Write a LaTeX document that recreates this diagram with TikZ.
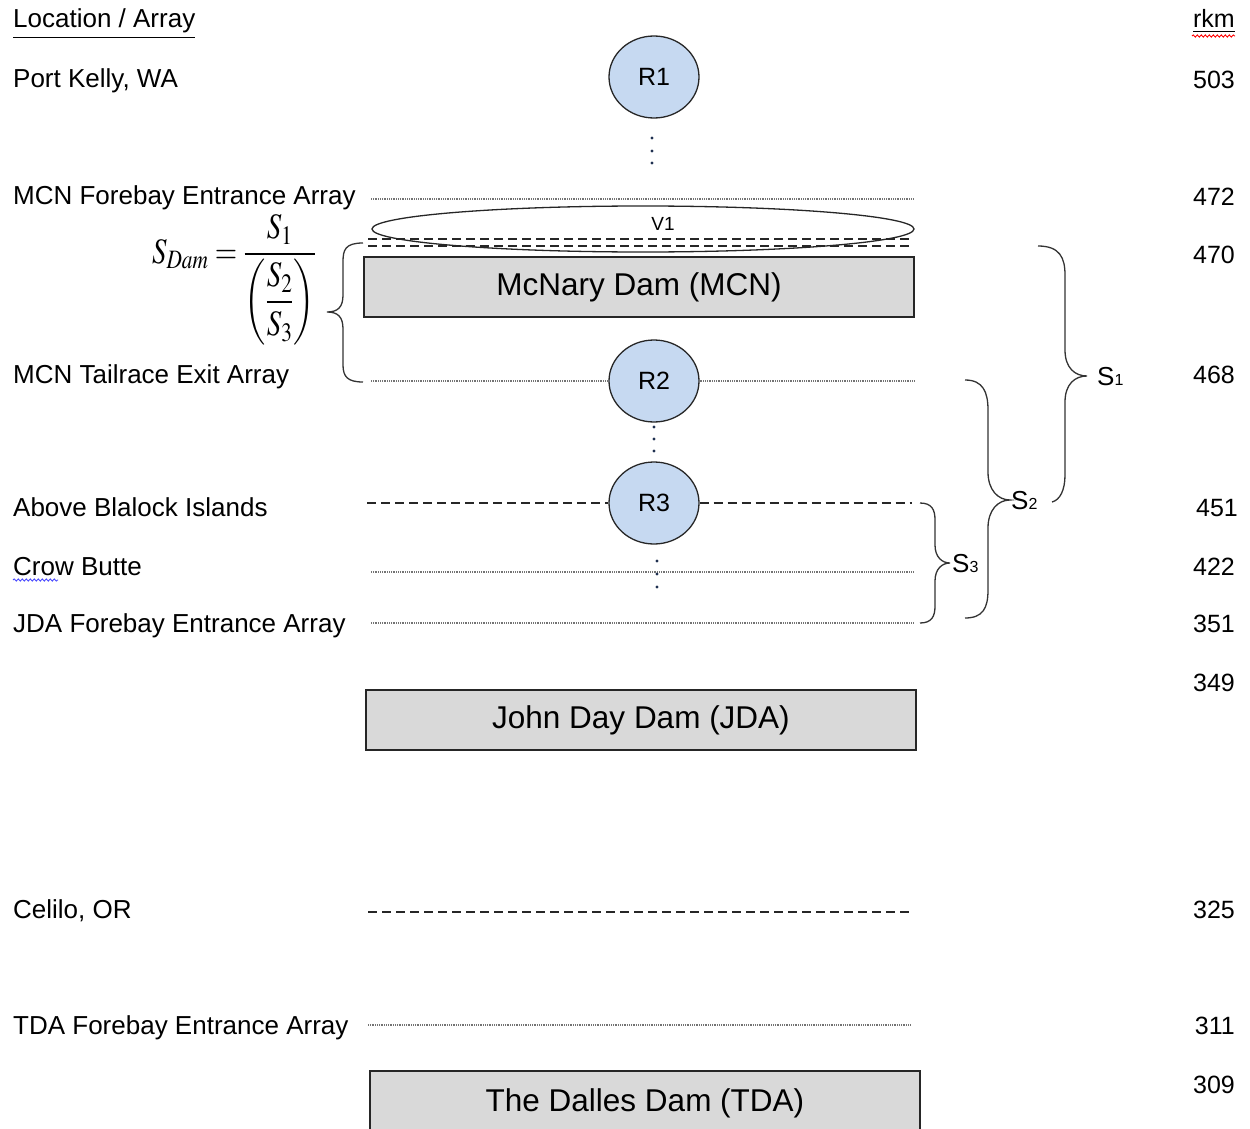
\documentclass[tikz,border=0pt]{standalone}
\usepackage{mathptmx}
\usepackage{fontspec}
\setmainfont{Liberation Sans}
\usetikzlibrary{shapes.geometric,decorations.pathmorphing}
\definecolor{rblue}{HTML}{C6D9F1}
\definecolor{damgray}{HTML}{D9D9D9}
\definecolor{dotblue}{HTML}{1F3050}
\newcommand{\Ssub}[1]{S{\fontsize{16}{16}\selectfont #1}}
\tikzset{
  lbl/.style={anchor=base west, inner sep=0, font=\fontsize{26}{30}\selectfont},
  km/.style={anchor=base east, inner sep=0, font=\fontsize{25}{30}\selectfont},
  rnode/.style={ellipse, draw=black!85, line width=1.3, fill=rblue, minimum width=90,
    minimum height=82, inner sep=0, font=\fontsize{25}{30}\selectfont},
  dam/.style={draw=black!85, line width=1.5, fill=damgray, minimum width=550,
    minimum height=60, inner sep=0, font=\fontsize{31.5}{36}\selectfont},
  dotline/.style={line width=1.4, draw=black!55, dash pattern=on 1pt off 0.8pt},
  dashline/.style={line width=1.4, draw=black!85, dash pattern=on 9pt off 5pt},
  bracepath/.style={line width=1.3, draw=black!80},
  slabel/.style={anchor=west, inner sep=0, font=\fontsize{26}{30}\selectfont},
  vdot/.style={circle, fill=dotblue, inner sep=0, minimum size=3.4},
  spell/.style={line width=0.9, decorate, decoration={snake, amplitude=1.1pt, segment length=4pt}}
}
\begin{document}
\begin{tikzpicture}[x=1pt, y=-1pt]
\useasboundingbox (0,0) rectangle (1250,1129);

% column headings
\node[lbl] (hloc) at (13,28) {\underline{Location / Array}};
\node[km] (hrkm) at (1235,28) {\underline{rkm}};
\draw[spell, red] (1192,36) -- (1235,36);

% location labels
\node[lbl] (lPK)  at (13,88)   {Port Kelly, WA};
\node[lbl] (lMF)  at (13,204)  {MCN Forebay Entrance Array};
\node[lbl] (lMT)  at (13,383)  {MCN Tailrace Exit Array};
\node[lbl] (lAB)  at (13,516)  {Above Blalock Islands};
\node[lbl] (lCB)  at (13,575)  {Crow Butte};
\draw[spell, blue!70] (13,580) -- (58,580);
\node[lbl] (lJF)  at (13,632)  {JDA Forebay Entrance Array};
\node[lbl] (lCO)  at (13,918)  {Celilo, OR};
\node[lbl] (lTF)  at (13,1034) {TDA Forebay Entrance Array};

% river kilometres
\node[km] (k503) at (1235,89)   {503};
\node[km] (k472) at (1235,205)  {472};
\node[km] (k470) at (1235,263)  {470};
\node[km] (k468) at (1235,383)  {468};
\node[km] (k451) at (1238,516)  {451};
\node[km] (k422) at (1235,575)  {422};
\node[km] (k351) at (1235,632)  {351};
\node[km] (k349) at (1235,691)  {349};
\node[km] (k325) at (1235,918)  {325};
\node[km] (k311) at (1235,1034) {311};
\node[km] (k309) at (1235,1093) {309};

% array line end points
\coordinate (mfL) at (371,199);  \coordinate (mfR) at (914,199);
\coordinate (d1L) at (368,239);  \coordinate (d1R) at (912,239);
\coordinate (d2L) at (368,246);  \coordinate (d2R) at (912,246);
\coordinate (mtL) at (371,381);  \coordinate (mtR) at (914,381);
\coordinate (abL) at (367,503);  \coordinate (abR) at (912,503);
\coordinate (cbL) at (371,572);  \coordinate (cbR) at (914,572);
\coordinate (jfL) at (371,623);  \coordinate (jfR) at (914,623);
\coordinate (coL) at (368,912);  \coordinate (coR) at (910,912);
\coordinate (tfL) at (368,1025); \coordinate (tfR) at (910,1025);

% receivers
\node[rnode] (R1) at (654,77)  {R1};
\node[rnode] (R2) at (654,381) {R2};
\node[rnode] (R3) at (654,503) {R3};

% array lines
\draw[dotline]  (mfL) -- (mfR);
\draw[dashline] (d1L) -- (d1R);
\draw[dashline] (d2L) -- (d2R);
\draw[dotline]  (mtL) -- (R2);
\draw[dotline]  (R2) -- (mtR);
\draw[dashline] (abL) -- (R3);
\draw[dashline] (R3) -- (abR);
\draw[dotline]  (cbL) -- (cbR);
\draw[dotline]  (jfL) -- (jfR);
\draw[dashline] (coL) -- (coR);
\draw[dotline]  (tfL) -- (tfR);

% vertical ellipsis dots
\foreach \y in {138,151,163} \node[vdot] at (652,\y) {};
\foreach \y in {427,439,451} \node[vdot] at (654,\y) {};
\foreach \y in {561,574,587} \node[vdot] at (657,\y) {};

% forebay volume V1
\node[ellipse, draw=black!85, line width=1.3, minimum width=542, minimum height=46, inner sep=0] (V1) at (643,229) {};
\node[inner sep=0, font=\fontsize{19}{22}\selectfont] (V1t) at (663,224) {V1};

% dams
\node[dam] (MCN) at (639,287)  {\raisebox{-2pt}{McNary Dam (MCN)}};
\node[dam] (JDA) at (641,720)  {\raisebox{-1pt}{John Day Dam (JDA)}};
\node[dam, minimum height=64] (TDA) at (645,1103) {\raisebox{3pt}{The Dalles Dam (TDA)}};

% dam passage estimator
\node[inner sep=0, font=\fontsize{32}{36}\selectfont] (eq) at (234,280)
  {\scalebox{0.9}[1.12]{$\displaystyle S_{Dam}=\frac{S_1}{\left(\displaystyle\frac{S_2}{S_3}\right)}$}};

% braces
\draw[bracepath] (363,243) .. controls (345,243) and (343,250) .. (343,262) -- (343,295)
  .. controls (343,307) and (338,312) .. (327,312)
  .. controls (338,312) and (343,317) .. (343,329) -- (343,365)
  .. controls (343,377) and (348,382) .. (363,382);
\draw[bracepath] (1038,246) .. controls (1060,246) and (1065,258) .. (1065,275) -- (1065,350)
  .. controls (1065,368) and (1075,376) .. (1087,376)
  .. controls (1075,376) and (1065,384) .. (1065,402) -- (1065,475)
  .. controls (1065,490) and (1060,500) .. (1052,502);
\draw[bracepath] (965,380) .. controls (983,380) and (988,392) .. (988,410) -- (988,472)
  .. controls (988,490) and (998,500) .. (1010,500)
  .. controls (998,500) and (988,510) .. (988,528) -- (988,590)
  .. controls (988,608) and (983,618) .. (965,618);
\draw[bracepath] (920,503) .. controls (932,503) and (935,510) .. (935,520) -- (935,545)
  .. controls (935,557) and (942,563) .. (950,563)
  .. controls (942,563) and (935,569) .. (935,581) -- (935,606)
  .. controls (935,616) and (932,623) .. (920,623);
\node[slabel] (S1) at (1097,377) {\Ssub{1}};
\node[slabel] (S2) at (1011,501) {\Ssub{2}};
\node[slabel] (S3) at (952,564)  {\Ssub{3}};
\end{tikzpicture}
\end{document}
